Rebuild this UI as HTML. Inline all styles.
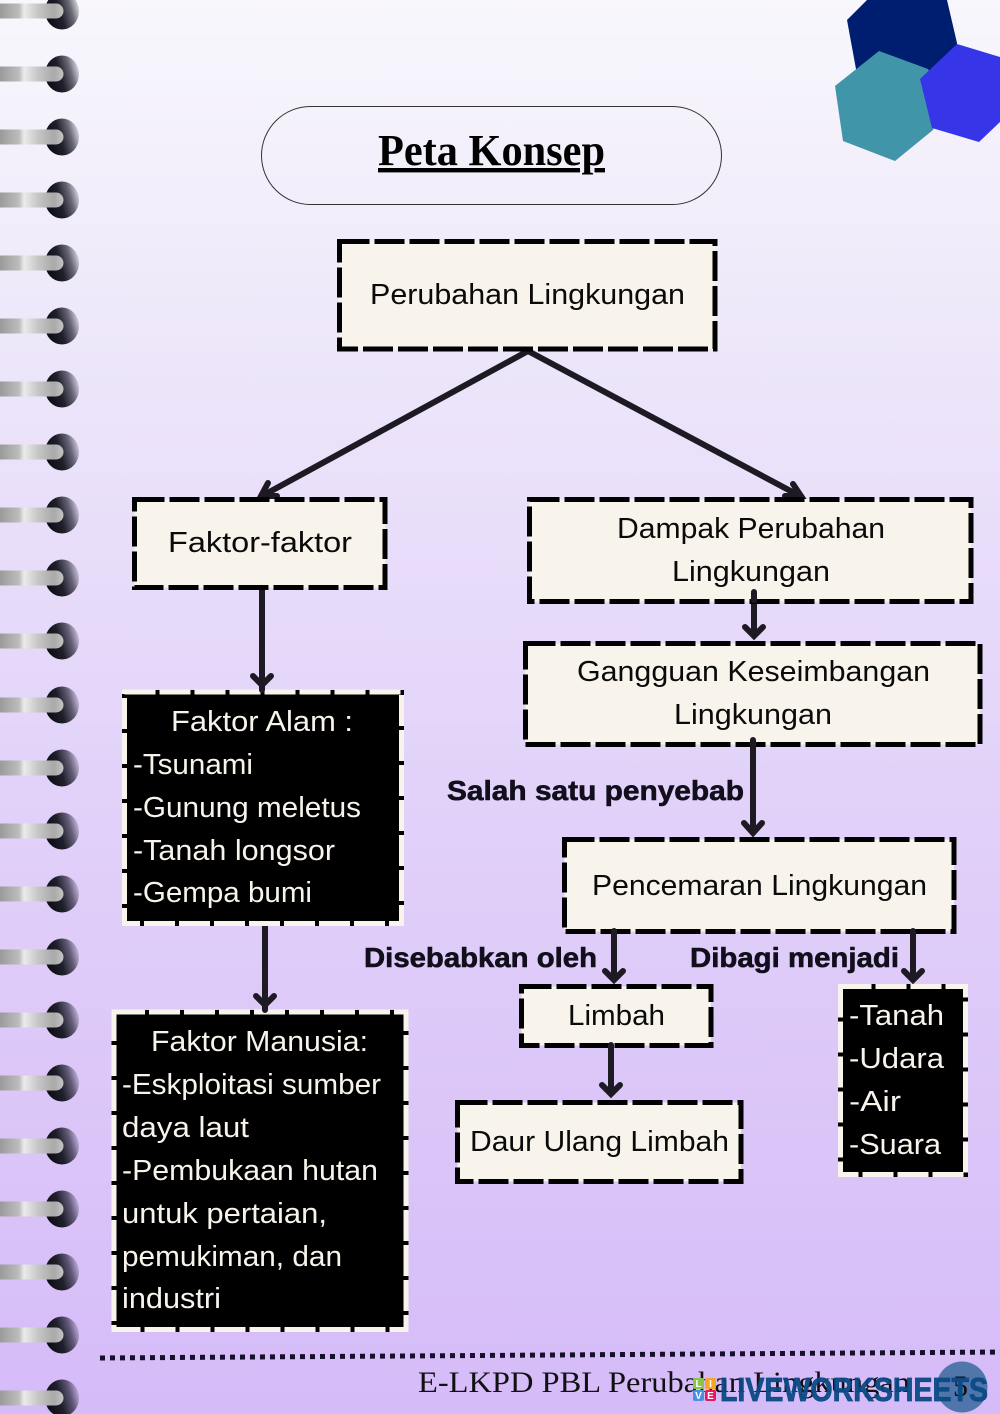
<!DOCTYPE html>
<html><head><meta charset="utf-8"><style>
html,body{margin:0;padding:0;width:1000px;height:1414px;overflow:hidden;background:#fff}
svg{display:block}
text{font-family:"Liberation Sans",sans-serif}
.b{fill:#f8f4ec;stroke:#000;stroke-width:5;stroke-dasharray:30 5}
.k{fill:#000}
.c{fill:none;stroke:#f8f4ec;stroke-width:5;stroke-dasharray:31 4}
.a{fill:none;stroke:#1d1a24;stroke-width:6;stroke-linecap:round;stroke-linejoin:miter}
.t{font-size:29px;fill:#0a0a0a}
.w{font-size:29px;fill:#f8f4ec}
.l{font-size:28px;font-weight:bold;fill:#120f1c;stroke:#120f1c;stroke-width:.6}
.tile{font-size:10px;font-weight:bold;fill:#fff;text-anchor:middle}
</style></head><body>
<svg width="1000" height="1414" viewBox="0 0 1000 1414" xmlns="http://www.w3.org/2000/svg">
<defs>
<linearGradient id="bg" x1="0" y1="0" x2="0" y2="1"><stop offset="0" stop-color="#f8f7fc"/><stop offset=".2" stop-color="#efeafa"/><stop offset=".55" stop-color="#e2d2f9"/><stop offset="1" stop-color="#d5bbf8"/></linearGradient>
<linearGradient id="rd" x1="0" y1=".65" x2="1" y2=".35"><stop offset="0" stop-color="#0a0a12"/><stop offset=".45" stop-color="#20202c"/><stop offset=".75" stop-color="#202030" stop-opacity=".65"/><stop offset="1" stop-color="#202030" stop-opacity=".12"/></linearGradient>
<linearGradient id="rb" x1="0" y1="0" x2="1" y2="0"><stop offset="0" stop-color="#9a9a9a"/><stop offset=".3" stop-color="#bdbdbd"/><stop offset=".38" stop-color="#ebebeb"/><stop offset=".6" stop-color="#c6c6c6"/><stop offset=".85" stop-color="#a9a9a9"/><stop offset="1" stop-color="#c4c4c4"/></linearGradient>
<g id="ring"><ellipse cx="62" cy="0" rx="17" ry="18.5" fill="url(#rd)"/><path d="M0-7.500H56a7.500 7.500 0 0 1 0 15H0z" fill="url(#rb)"/></g>
</defs>
<rect width="1000" height="1414" fill="url(#bg)"/>
<use href="#ring" y="11"/><use href="#ring" y="74"/><use href="#ring" y="137"/><use href="#ring" y="200"/><use href="#ring" y="263"/><use href="#ring" y="326"/><use href="#ring" y="389"/><use href="#ring" y="452"/><use href="#ring" y="515"/><use href="#ring" y="578"/><use href="#ring" y="641"/><use href="#ring" y="705"/><use href="#ring" y="768"/><use href="#ring" y="831"/><use href="#ring" y="894"/><use href="#ring" y="957"/><use href="#ring" y="1020"/><use href="#ring" y="1083"/><use href="#ring" y="1146"/><use href="#ring" y="1209"/><use href="#ring" y="1272"/><use href="#ring" y="1335"/><use href="#ring" y="1398"/>

<polygon points="847,20 867,0 947,0 957,43 957,60 920,90 858,80" fill="#001e70"/>
<polygon points="879,51 928,69 945,100 933,130 895,161 843,141 835,86" fill="#4195a9"/>
<polygon points="957,44 1000,57 1000,122 979,142 932,128 920,79" fill="#3735e8"/>

<rect x="261.500" y="106.500" width="460" height="98" rx="49" fill="none" stroke="#333" stroke-width="1"/>
<text x="378" y="165" font-size="44" font-weight="bold" textLength="227" lengthAdjust="spacingAndGlyphs" text-decoration="underline" style='font-family:"Liberation Serif",serif' fill="#000">Peta Konsep</text>

<!-- connectors under boxes -->
<path class="a" d="M528 351L262 496M528 351L800 496"/>
<path class="a" d="M268 483L261 496 277 496M793 484L801 496 785 496"/>
<path class="a" d="M262 589V684M265 925V1004M754 592V635M753 740V832M614 933V979M913 933V979M611 1047V1093"/>

<!-- light boxes -->
<rect class="b" x="339.500" y="241.500" width="375.500" height="107.500"/>
<rect class="b" x="134.500" y="499.500" width="250.500" height="88"/>
<rect class="b" x="529.500" y="499.500" width="441.500" height="102"/>
<rect class="b" x="525.500" y="643.500" width="454.500" height="101"/>
<rect class="b" x="564.500" y="839.500" width="389.500" height="92"/>
<rect class="b" x="521.500" y="986.500" width="189.500" height="59"/>
<rect class="b" x="457.500" y="1102.500" width="283.500" height="79"/>

<!-- arrow overlays -->
<path class="a" d="M754 592V600M753 740V748M614 931V937M913 931V937M611 1045V1050"/>

<!-- dark boxes -->
<rect class="k" x="122" y="690" width="282" height="236"/>
<rect class="c" x="124.500" y="692" width="277" height="231.500"/>
<rect class="k" x="111.500" y="1010" width="297" height="322"/>
<rect class="c" x="114" y="1012" width="292" height="317.500"/>
<rect class="k" x="838" y="984" width="130" height="193"/>
<rect class="c" x="840.500" y="986.500" width="125" height="188"/>
<path class="a" d="M262 685V690M265 1005V1010"/>

<!-- arrowheads -->
<path class="a" d="M253 676L262 685 271 676M256 996L265 1005 274 996M745 627L754 636 763 627M744 823L753 833 762 823M605 971L614 980 623 971M904 971L913 980 922 971M602 1085L611 1094 620 1085"/>

<!-- labels -->
<text class="t" x="370" y="304" textLength="315" lengthAdjust="spacingAndGlyphs">Perubahan Lingkungan</text>
<text class="t" x="168" y="552" textLength="184" lengthAdjust="spacingAndGlyphs">Faktor-faktor</text>
<text class="t" x="617" y="538" textLength="268" lengthAdjust="spacingAndGlyphs">Dampak Perubahan</text>
<text class="t" x="672" y="581" textLength="158" lengthAdjust="spacingAndGlyphs">Lingkungan</text>
<text class="t" x="577" y="681" textLength="353" lengthAdjust="spacingAndGlyphs">Gangguan Keseimbangan</text>
<text class="t" x="674" y="724" textLength="158" lengthAdjust="spacingAndGlyphs">Lingkungan</text>
<text class="t" x="592" y="895" textLength="335" lengthAdjust="spacingAndGlyphs">Pencemaran Lingkungan</text>
<text class="t" x="568" y="1025" textLength="97" lengthAdjust="spacingAndGlyphs">Limbah</text>
<text class="t" x="470" y="1151" textLength="259" lengthAdjust="spacingAndGlyphs">Daur Ulang Limbah</text>

<text class="l" x="447" y="800" textLength="297" lengthAdjust="spacingAndGlyphs">Salah satu penyebab</text>
<text class="l" x="364" y="967" textLength="233" lengthAdjust="spacingAndGlyphs">Disebabkan oleh</text>
<text class="l" x="690" y="967" textLength="209" lengthAdjust="spacingAndGlyphs">Dibagi menjadi</text>

<text class="w" x="171" y="731" textLength="182" lengthAdjust="spacingAndGlyphs">Faktor Alam :</text>
<text class="w" x="133" y="774" textLength="120" lengthAdjust="spacingAndGlyphs">-Tsunami</text>
<text class="w" x="133" y="817" textLength="228" lengthAdjust="spacingAndGlyphs">-Gunung meletus</text>
<text class="w" x="133" y="860" textLength="202" lengthAdjust="spacingAndGlyphs">-Tanah longsor</text>
<text class="w" x="133" y="902" textLength="179" lengthAdjust="spacingAndGlyphs">-Gempa bumi</text>

<text class="w" x="151" y="1051" textLength="217" lengthAdjust="spacingAndGlyphs">Faktor Manusia:</text>
<text class="w" x="122" y="1094" textLength="259" lengthAdjust="spacingAndGlyphs">-Eskploitasi sumber</text>
<text class="w" x="122" y="1137" textLength="127" lengthAdjust="spacingAndGlyphs">daya laut</text>
<text class="w" x="122" y="1180" textLength="256" lengthAdjust="spacingAndGlyphs">-Pembukaan hutan</text>
<text class="w" x="122" y="1223" textLength="205" lengthAdjust="spacingAndGlyphs">untuk pertaian,</text>
<text class="w" x="122" y="1266" textLength="220" lengthAdjust="spacingAndGlyphs">pemukiman, dan</text>
<text class="w" x="122" y="1308" textLength="99" lengthAdjust="spacingAndGlyphs">industri</text>

<text class="w" x="849" y="1025" textLength="95" lengthAdjust="spacingAndGlyphs">-Tanah</text>
<text class="w" x="849" y="1068" textLength="95" lengthAdjust="spacingAndGlyphs">-Udara</text>
<text class="w" x="849" y="1111" textLength="52" lengthAdjust="spacingAndGlyphs">-Air</text>
<text class="w" x="849" y="1154" textLength="92" lengthAdjust="spacingAndGlyphs">-Suara</text>

<!-- footer -->
<line x1="100" y1="1358" x2="1005" y2="1352" stroke="#14102a" stroke-width="5" stroke-dasharray="5 5"/>
<circle cx="962" cy="1387" r="25.500" fill="#1d5a8c" fill-opacity=".72"/>
<text x="418" y="1392" font-size="30" textLength="492" lengthAdjust="spacingAndGlyphs" style='font-family:"Liberation Serif",serif' fill="#111">E-LKPD PBL Perubahan Lingkungan</text>
<text x="953" y="1396" font-size="30" style='font-family:"Liberation Serif",serif' fill="#111">5</text>
<rect x="693" y="1378" width="11" height="11" rx="2" fill="#8ac24a"/><rect x="705" y="1378" width="11" height="11" rx="2" fill="#f5a623"/>
<rect x="693" y="1390" width="11" height="11" rx="2" fill="#4a90e2"/><rect x="705" y="1390" width="11" height="11" rx="2" fill="#e5195f"/>
<text class="tile" x="698.500" y="1387">L</text><text class="tile" x="710.500" y="1387">I</text><text class="tile" x="698.500" y="1399">V</text><text class="tile" x="710.500" y="1399">E</text>
<text x="720" y="1401" font-size="33" font-weight="bold" textLength="268" lengthAdjust="spacingAndGlyphs" fill="#0b4a85" stroke="#0b4a85" stroke-width=".8" fill-opacity=".95">LIVEWORKSHEETS</text>
</svg>
</body></html>
